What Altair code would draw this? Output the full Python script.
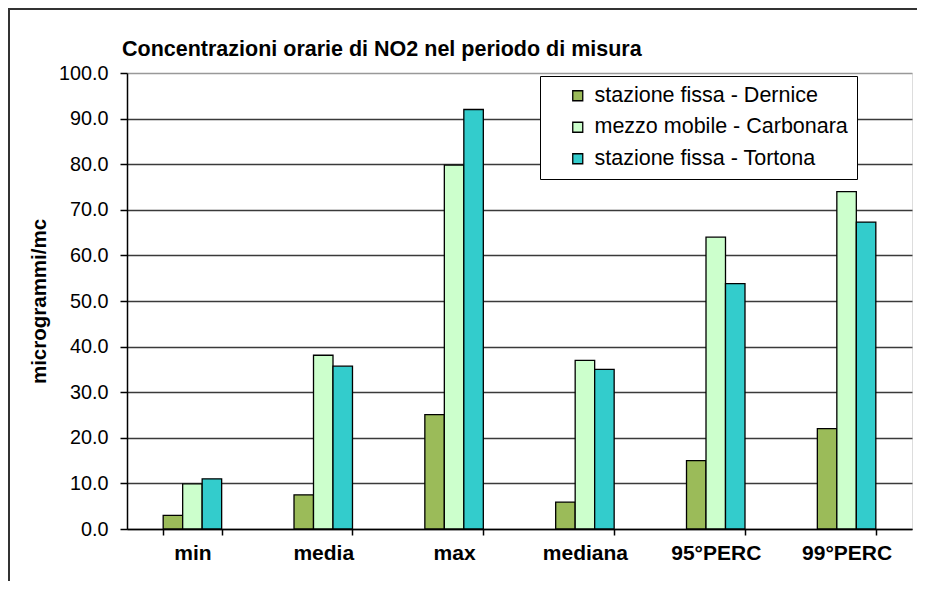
import altair as alt
import pandas as pd

categories = ["min", "media", "max", "mediana", "95°PERC", "99°PERC"]
series = ["stazione fissa - Dernice", "mezzo mobile - Carbonara", "stazione fissa - Tortona"]
dernice = [3.0, 7.5, 25.1, 5.9, 15.0, 22.0]
carbonara = [9.9, 38.1, 79.8, 37.0, 64.0, 74.0]
tortona = [11.0, 35.7, 92.0, 35.0, 53.8, 67.3]
colors = ["#9BBB59", "#CCFFCC", "#33CCCC"]
y_ticks = [0, 10, 20, 30, 40, 50, 60, 70, 80, 90, 100]

rows = []
for s, vals in zip(series, [dernice, carbonara, tortona]):
    for c, v in zip(categories, vals):
        rows.append({"categoria": c, "serie": s, "valore": v})
df = pd.DataFrame(rows)

FONT = "Liberation Sans"

bars = alt.Chart(df).mark_bar(stroke="black", strokeWidth=1.3).encode(
    x=alt.X("categoria:N", sort=categories,
            scale=alt.Scale(paddingInner=0.553, paddingOuter=0.2765),
            axis=alt.Axis(title=None, labelAngle=0, tickBand="extent",
                          labelFont=FONT, labelFontSize=21, labelFontWeight="bold",
                          labelColor="black", domainColor="black", domainWidth=1.5,
                          tickColor="black", tickWidth=1.5, tickSize=6, labelPadding=7,
                          grid=False)),
    xOffset=alt.XOffset("serie:N", sort=series,
                        scale=alt.Scale(paddingInner=0, paddingOuter=0)),
    y=alt.Y("valore:Q",
            scale=alt.Scale(domain=[0, 100], nice=False),
            axis=alt.Axis(title="microgrammi/mc", values=y_ticks, format=".1f",
                          titleFont=FONT, titleFontSize=20.5, titleFontWeight="bold",
                          titleColor="black", titlePadding=9,
                          labelFont=FONT, labelFontSize=19.8, labelColor="black",
                          labelPadding=12,
                          domainColor="black", domainWidth=1.5,
                          tickColor="black", tickWidth=1.5, tickSize=7,
                          grid=True,
                          gridColor={"condition": {"test": "datum.value == 100", "value": "#999999"},
                                     "value": "#3a3a3a"},
                          gridWidth=1.4)),
    color=alt.Color("serie:N", sort=series,
                    scale=alt.Scale(domain=series, range=colors),
                    legend=alt.Legend(title=None, orient="none", legendX=413, legendY=3,
                                      fillColor="white", strokeColor="black",
                                      padding=9, symbolOffset=18,
                                      symbolType="square", symbolSize=100,
                                      symbolStrokeColor="black", symbolStrokeWidth=1.3,
                                      labelFont=FONT, labelFontSize=21.5, labelColor="black",
                                      labelOffset=6, rowPadding=8.5, labelLimit=400)),
)

frame = alt.Chart(pd.DataFrame({"f": [0]})).mark_rect(
    fill=None, stroke="#333333", strokeWidth=2
).encode(
    x=alt.value(-118), x2=alt.value(805),
    y=alt.value(-64), y2=alt.value(530),
)

chart = alt.layer(frame, bars).properties(
    width=785, height=456,
    autosize=alt.AutoSizeParams(type="none"),
    padding={"left": 119, "top": 65, "right": 5, "bottom": 52},
    title=alt.TitleParams("Concentrazioni orarie di NO2 nel periodo  di misura",
                          anchor="start", font=FONT, fontSize=21.5, fontWeight="bold",
                          color="black", dx=114, dy=60, offset=8),
).configure_view(stroke="#999999", strokeWidth=1.5).configure(background="white")

chart.save("out.html", embed_options={"renderer": "svg", "actions": False})
